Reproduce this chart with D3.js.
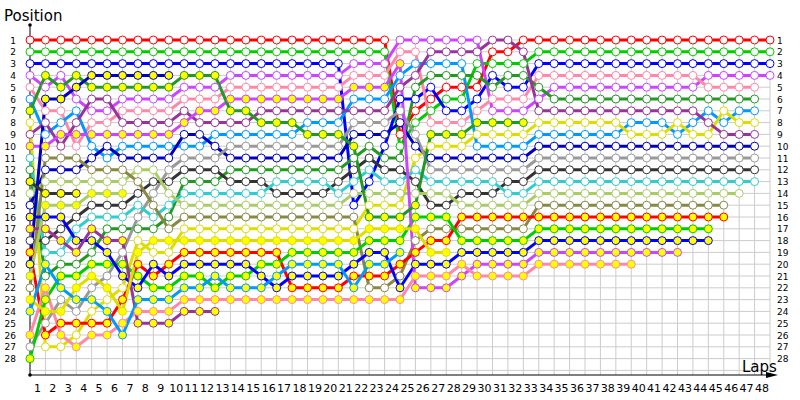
<!DOCTYPE html>
<html><head><meta charset="utf-8">
<script src="https://cdn.jsdelivr.net/npm/d3@7"></script>
<style>body{margin:0;background:#fff;}</style>
</head><body><svg id="c" width="800" height="400"></svg>
<script>
const lapLabels = d3.range(1, 49);
const posLabels = d3.range(1, 29);
const driverColors = ["#ff0000","#00cc00","#0000ff","#cc44ff","#ff88aa","#229922","#0099ff","#dddd00","#993399","#0000bb","#999999","#333333","#33cccc","#aacc66","#888844","#ff0000","#00cc00","#0000ff","#cc44ff","#ff88aa","#229922","#0000bb","#993399","#dddd00","#0099ff","#333333","#aacc66"];
const driverFill = ["#fff","#fff","#fff","#fff","#fff","#fff","#fff","#fff","#fff","#fff","#fff","#fff","#fff","#fff","#fff","#ffff00","#ffff00","#ffff00","#ffff00","#ffff00","#ffff00","#ffff00","#ffff00","#ffff00","#ffff00","#ffff00","#ffff00"];
// positions per lap, starting at lap 0 (grid)
const redH    = [1,1,1,1,1,1,1,1,1,1,1,1,1,1,1,1,1,1,1,1,1,1,1,1,9,7,6,5,5,5,2,2,1,1,1,1,1,1,1,1,1,1,1,1,1,1,1,1,1];
const greenH  = [2,2,2,2,2,2,2,2,2,2,2,2,2,2,2,2,2,2,2,2,2,2,2,2,10,8,7,6,6,3,3,3,3,2,2,2,2,2,2,2,2,2,2,2,2,2,2,2,2];
const blueH   = [3,3,3,3,3,3,3,3,3,3,3,3,3,3,3,3,3,3,3,3,3,15,13,10,6,6,5,7,7,6,4,5,5,3,3,3,3,3,3,3,3,3,3,3,3,3,3,3,3];
const violetH = [4,5,4,6,7,7,6,6,6,6,5,5,5,4,4,4,4,4,4,4,4,3,3,3,1,1,1,1,1,1,7,7,7,6,5,5,5,5,5,5,5,5,5,5,4,4,4,4,4];
const pinkH   = [5,7,7,10,8,8,7,7,7,7,6,6,6,5,5,5,5,5,5,5,5,4,4,4,2,2,8,8,8,7,6,6,6,4,4,4,4,4,4,4,4,4,4,4,5,5,5,5];
const dkgreenH= [12,21,20,20,19,17,17,17,17,16,13,13,13,12,12,12,12,12,12,12,12,11,10,11,11,5,4,4,4,4,5,4,4,5,6,6,6,6,6,6,6,6,6,6,6,6,6,6];
const lblueH  = [6,9,8,7,10,11,10,10,10,10,10,10,9,9,9,9,9,9,8,8,8,6,6,6,4,3,3,3,3,10,10,10,10,9,9,9,9,9,9,8,8,8,9,8,7,8,7,7];
const yellowH = [8,27,27,26,24,23,22,18,19,19,17,17,17,17,17,17,17,17,17,17,17,17,15,15,15,11,10,10,10,9,9,9,9,8,8,8,8,8,8,9,9,9,8,9,9,7,8,8];
const purpleH = [9,8,10,8,6,6,8,8,8,8,7,8,8,8,8,7,7,7,7,7,7,7,7,7,5,4,2,2,2,2,1,1,2,7,7,7,7,7,7,7,7,7,7,7,8,9,9,9];
const navyH   = [15,12,12,12,11,10,11,11,11,11,9,9,10,11,11,11,11,11,11,11,11,9,9,9,8,10,11,11,11,11,11,11,11,10,10,10,10,10,10,10,10,10,10,10,10,10,10,10];
const grayH   = [27,25,23,24,22,21,19,16,14,12,11,11,11,10,10,10,10,10,10,10,10,8,8,8,7,9,12,12,12,12,12,12,12,11,11,11,11,11,11,11,11,11,11,11,11,11,11,11];
const dkgrayH = [18,18,17,16,15,15,15,14,13,13,12,12,12,13,13,13,14,14,14,14,13,12,11,12,12,13,15,15,14,14,14,13,13,12,12,12,12,12,12,12,12,12,12,12,12,12,12,12];
const cyanH   = [11,19,19,17,16,16,16,15,16,15,14,14,14,14,14,14,13,13,13,13,14,13,12,13,13,12,13,13,13,13,13,14,14,13,13,13,13,13,13,13,13,13,13,13,13,13,13,13];
const loliveH = [14,13,13,13,13,13,13,12,12,14,15,15,15,15,15,15,15,15,15,15,15,14,14,14,14,14,14,14,15,15,15,15,15,14,14,14,14,14,14,14,14,14,14,14,14,14,14];
const oliveH  = [22,11,11,11,12,12,12,13,15,17,16,16,16,16,16,16,16,16,16,16,16,16,22,22,21,18,17,17,17,17,17,17,17,15,15,15,15,15,15,15,15,15,15,15,15,15];
const redY    = [19,26,25,25,25,25,23,20,21,20,19,19,19,19,19,19,19,22,22,22,22,21,21,21,20,19,18,18,16,16,16,16,16,16,16,16,16,16,16,16,16,16,16,16,16,16];
const greenY  = [28,23,21,21,20,20,20,21,22,22,21,21,22,21,21,20,20,19,19,19,19,19,18,18,18,16,16,16,18,18,18,18,18,17,17,17,17,17,17,17,17,17,17,17,17];
const blueY   = [16,16,16,18,18,19,21,22,20,21,20,20,20,20,20,21,22,21,21,21,21,20,19,19,22,20,20,20,19,19,19,19,19,18,18,18,18,18,18,18,18,18,18,18,18];
const violetY = [10,10,9,9,9,9,9,9,9,9,8,7,7,6,6,6,6,6,6,6,6,5,5,5,3,22,22,22,21,20,20,20,20,19,19,19,19,19,19,19,19,19,19];
const pinkY   = [26,22,26,27,26,26,25,24,24,24,23,23,23,23,23,23,23,23,23,23,23,23,23,23,23,21,21,21,20,21,21,21,21,20,20,20,20,20,20,20];
const dkgreenY= [7,4,5,4,5,5,5,5,5,5,4,4,4,7,7,8,8,8,9,9,9,10,16,16,16,15,9,9,9,8,8,8,8];
const navyY   = [20,6,6,5,4,4,4,4,4,4];
const purpleY = [17,17,18,19,17,18,18,25,25,25,24,24,24];
const yellowY = [23,24,24,22,21,22,24,19,18,18,18,18,18,18,18,18,18,18,18,18,18,18,17,17,17,17,19,19];
const lblueY  = [24,20,22,23,23,24,26,23,23,23,22,22,21,22,22,22,21,20,20,20,20,22,20,20,19];
const dkgrayY = [13,14,14,14];
const loliveY = [21,15,15,15,14,14,14];

const series = [redH,greenH,blueH,violetH,pinkH,dkgreenH,lblueH,yellowH,purpleH,navyH,grayH,dkgrayH,cyanH,loliveH,oliveH,redY,greenY,blueY,violetY,pinkY,dkgreenY,navyY,purpleY,yellowY,lblueY,dkgrayY,loliveY];

const svg = d3.select("#c");
const x = d3.scaleLinear().domain([0, 48]).range([30, 770]);
const y = d3.scaleLinear().domain([1, 28]).range([40, 358.6]);

const g = svg.append("g");
g.selectAll("line.v").data(lapLabels).join("line")
  .attr("x1", d => x(d)).attr("x2", d => x(d)).attr("y1", y(1)).attr("y2", 375)
  .attr("stroke", "#cccccc").attr("stroke-width", 1);
g.selectAll("line.h").data(d3.range(1, 30)).join("line")
  .attr("x1", 30).attr("x2", x(48)).attr("y1", d => y(d)).attr("y2", d => y(d))
  .attr("stroke", "#cccccc").attr("stroke-width", 1);

svg.append("line").attr("x1", 30).attr("x2", 30).attr("y1", 25).attr("y2", 375).attr("stroke", "#000");
svg.append("line").attr("x1", 30).attr("x2", 772).attr("y1", 375).attr("y2", 375).attr("stroke", "#000");
svg.append("circle").attr("cx", 30).attr("cy", 25).attr("r", 1.8).attr("fill", "#000");
svg.append("circle").attr("cx", 30).attr("cy", 375).attr("r", 1.8).attr("fill", "#000");
svg.append("path").attr("d", "M766,372 L778,375 L766,378 Z").attr("fill", "#000");

svg.append("text").attr("x", 4).attr("y", 21).text("Position")
  .attr("font-family", "Tahoma, 'DejaVu Sans', sans-serif").attr("font-size", 15);
svg.append("text").attr("x", 742).attr("y", 372).text("Laps")
  .attr("font-family", "Tahoma, 'DejaVu Sans', sans-serif").attr("font-size", 15);

svg.append("g").selectAll("text").data(posLabels).join("text")
  .attr("x", 16).attr("y", d => y(d) + 3.5).attr("text-anchor", "end")
  .attr("font-family", "'DejaVu Sans', sans-serif").attr("font-size", 9).text(d => d);
svg.append("g").selectAll("text").data(posLabels).join("text")
  .attr("x", 777).attr("y", d => y(d) + 3.5).attr("text-anchor", "start")
  .attr("font-family", "'DejaVu Sans', sans-serif").attr("font-size", 9).text(d => d);
svg.append("g").selectAll("text").data(lapLabels).join("text")
  .attr("x", d => x(d) - 8).attr("y", 392).attr("text-anchor", "middle")
  .attr("font-family", "'DejaVu Sans', sans-serif").attr("font-size", 11).text(d => d);

const line = d3.line().x((d, i) => x(i)).y(d => y(d));
const dg = svg.append("g");
series.forEach((s, k) => {
  dg.append("path").attr("d", line(s)).attr("fill", "none")
    .attr("stroke", driverColors[k]).attr("stroke-width", 3).attr("stroke-linejoin", "round");
});
series.forEach((s, k) => {
  dg.append("g").selectAll("circle").data(s).join("circle")
    .attr("cx", (d, i) => x(i)).attr("cy", d => y(d)).attr("r", 4)
    .attr("fill", driverFill[k]).attr("stroke", driverColors[k]).attr("stroke-width", 1);
});
</script></body></html>
